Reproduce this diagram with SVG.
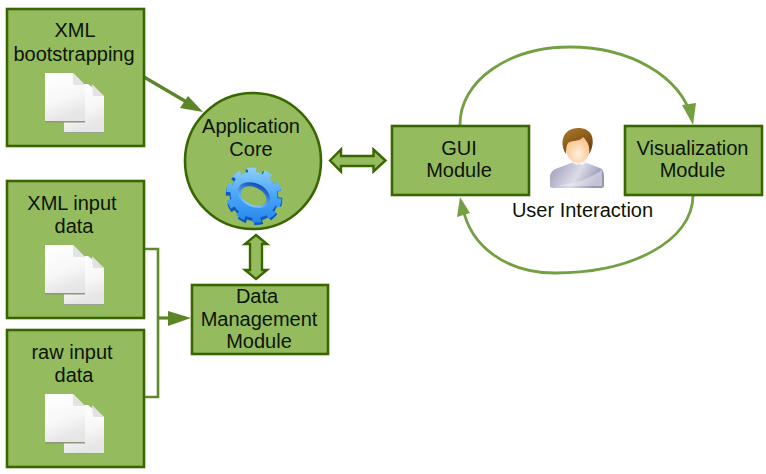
<svg xmlns="http://www.w3.org/2000/svg" xmlns:xlink="http://www.w3.org/1999/xlink" width="766" height="474" viewBox="0 0 766 474">
<style>
.n{fill:#94bc5f;stroke:#3a6600;stroke-width:2.6}
.d{fill:#94bc5f;stroke:#3a6600;stroke-width:2.4;stroke-linejoin:miter}
.t{font-family:"Liberation Sans",Arial,sans-serif;font-size:20px;fill:#0c1404;text-anchor:middle}
.l{fill:none;stroke:#5f8a2c;stroke-width:2.6}
.a{fill:none;stroke:#5b8526;stroke-width:3.2}
.c{fill:none;stroke:#749f42;stroke-width:2.8}
.h1{fill:#5b8526}
.h2{fill:#749f42}
</style>
<defs>
<linearGradient id="pg" x1="0" y1="0" x2="0.3" y2="1"><stop offset="0" stop-color="#ffffff"/><stop offset="0.6" stop-color="#f8f8f8"/><stop offset="1" stop-color="#e6e6e6"/></linearGradient>
<linearGradient id="gt" gradientUnits="userSpaceOnUse" x1="-22" y1="-26" x2="24" y2="26"><stop offset="0" stop-color="#9ad6ff"/><stop offset="0.5" stop-color="#48a6f7"/><stop offset="1" stop-color="#1f7fea"/></linearGradient>
<linearGradient id="gh" x1="0" y1="0" x2="0" y2="1"><stop offset="0" stop-color="#0b4fb8"/><stop offset="1" stop-color="#8accfa"/></linearGradient>
<linearGradient id="bd" x1="0" y1="0" x2="1" y2="0.3"><stop offset="0" stop-color="#9799b5"/><stop offset="0.6" stop-color="#dcdce8"/><stop offset="1" stop-color="#9497b2"/></linearGradient>
<radialGradient id="sk" cx="0.5" cy="0.7" r="0.7"><stop offset="0" stop-color="#fff0dc"/><stop offset="1" stop-color="#f7b77a"/></radialGradient>
<linearGradient id="hr" x1="0" y1="0" x2="0.6" y2="1"><stop offset="0" stop-color="#b07a2a"/><stop offset="1" stop-color="#6e4410"/></linearGradient>
<g id="docs">
<path d="M64 84H88L104 96V133H64Z" fill="#9aa392"/>
<path d="M64 84H88L104 96V132H64Z" fill="url(#pg)"/>
<path d="M92 84L104 96H93Z" fill="#e2e2e2"/>
<path d="M45 74H73L85 85V122.500H45Z" fill="#8c9678"/>
<path d="M45 73H73L85 85V121H45Z" fill="url(#pg)"/>
<path d="M73 73L85 85H75Q73 85 73 83Z" fill="#e4e4e4"/>
</g>
</defs>

<g id="connectors">
<line class="a" x1="144" y1="77" x2="190" y2="104"/>
<polygon class="h1" points="203,112 180,108 188,96"/>
<polyline class="l" points="144,249 158,249 158,397 144,397"/>
<line class="a" x1="158" y1="318" x2="172" y2="318"/>
<polygon class="h1" points="191,318 168,311 168,326"/>
<polygon class="d" points="330,160.500 341,149.500 341,156 373.500,156 373.500,149.500 385.500,160.500 373.500,171.500 373.500,166 341,166 341,171.500"/>
<polygon class="d" points="256,235 267,244 262,244 262,270 267,270 256,279 245,270 250,270 250,244 245,244"/>
<path class="c" d="M460 126C459 80 510 47 570 47C630 47 680 76 692 118"/>
<polygon class="h2" points="693,125 682,105 696,103"/>
<path class="c" d="M693 195C693 242 630 273 555 273C505 273 470 245 463 208"/>
<polygon class="h2" points="460,197 457,217 470,213"/>
</g>

<g id="xml-bootstrapping">
<rect class="n" x="7" y="9" width="137" height="137"/>
<text class="t" x="75" y="37">XML</text>
<text class="t" x="74" y="61">bootstrapping</text>
<use xlink:href="#docs" href="#docs"/>
</g>

<g id="xml-input-data">
<rect class="n" x="7" y="181" width="137" height="137"/>
<text class="t" x="72" y="210">XML input</text>
<text class="t" x="74" y="233">data</text>
<use xlink:href="#docs" href="#docs" y="172"/>
</g>

<g id="raw-input-data">
<rect class="n" x="7" y="330" width="137" height="137"/>
<text class="t" x="72" y="359">raw input</text>
<text class="t" x="74" y="382">data</text>
<use xlink:href="#docs" href="#docs" y="321"/>
</g>

<g id="application-core">
<circle class="n" cx="253" cy="161" r="68"/>
<text class="t" x="251" y="133">Application</text>
<text class="t" x="251" y="156">Core</text>
<g transform="translate(254,195) rotate(40) scale(1,0.94)">
<g transform="rotate(-40) translate(0,2)">
<circle r="25" fill="#0c58c4"/>
<circle r="26" fill="none" stroke="#0c58c4" stroke-width="6" stroke-dasharray="8.500 7.840"/>
</g>
<circle r="24" fill="url(#gt)"/>
<circle r="25.500" fill="none" stroke="url(#gt)" stroke-width="6" stroke-dasharray="8.500 7.520"/>
<g transform="rotate(-18) scale(1,0.8)">
<ellipse cx="0" cy="0" rx="17" ry="15.500" fill="url(#gh)"/>
<ellipse cx="0" cy="1.500" rx="13.500" ry="11.500" fill="#94bc5f"/>
</g>
</g>
</g>

<g id="data-management-module">
<rect class="n" x="192" y="285" width="136" height="69"/>
<text class="t" x="257" y="303">Data</text>
<text class="t" x="259" y="326">Management</text>
<text class="t" x="259" y="348">Module</text>
</g>

<g id="gui-module">
<rect class="n" x="392" y="126" width="137" height="69"/>
<text class="t" x="459" y="155">GUI</text>
<text class="t" x="459" y="177">Module</text>
</g>

<g id="user-interaction">
<path d="M550 186V176Q551 170 558 168L574 162H584L600 168Q604 170 604 176V186Q604 188 602 188H552Q550 188 550 186Z" fill="url(#bd)"/>
<path d="M560 185Q586 182 602 170V186H560Z" fill="#eeeef4" opacity="0.5"/>
<path d="M571 162L577 165L579 164L582 165L587 162L584 160H574Z" fill="#f4f4f4"/>
<ellipse cx="578" cy="148" rx="12" ry="15" fill="url(#sk)"/>
<path d="M566 154C561 147 561 136 568 131C575 126 587 127 591 134C594 140 593 148 589 154C590 146 588 142 583 137C580 142 572 140 568 143C566 146 566 150 566 154Z" fill="url(#hr)"/>
<text class="t" x="582.500" y="217">User Interaction</text>
</g>

<g id="visualization-module">
<rect class="n" x="625" y="126" width="137" height="69"/>
<text class="t" x="692.500" y="155">Visualization</text>
<text class="t" x="692.500" y="177">Module</text>
</g>
</svg>
